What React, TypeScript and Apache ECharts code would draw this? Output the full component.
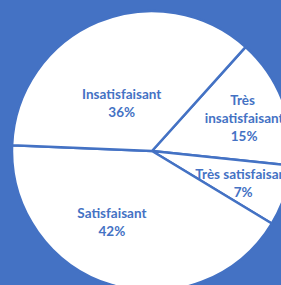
import React, { useEffect, useRef } from "react";
import * as echarts from "echarts";

const categories = ["Très insatisfaisant", "Très satisfaisant", "Satisfaisant", "Insatisfaisant"];
const values = [15, 7, 42, 36];

const BLUE = "#4472C4";
// label nudges (px) per slice, styling only
const labelOffsets: number[][] = [[24, -7], [22, 9], [-19, 1], [-2, 19]];
const labelWidths: (number | undefined)[] = [90, undefined, undefined, undefined];

export default function App() {
  const ref = useRef<HTMLDivElement>(null);
  useEffect(() => {
    document.body.style.margin = "0";
    const chart = echarts.init(ref.current!, null, { renderer: "svg" });
    chart.setOption({
      animation: false,
      backgroundColor: BLUE,
      series: [
        {
          type: "pie",
          center: [152, 151],
          radius: 140,
          startAngle: 48,
          clockwise: true,
          avoidLabelOverlap: false,
          itemStyle: { color: "#ffffff", borderColor: BLUE, borderWidth: 2.5 },
          label: {
            show: true,
            position: "inside",
            color: BLUE,
            fontFamily: "Lato",
            fontWeight: "bold",
            fontSize: 13.5,
            lineHeight: 18,
            formatter: (p: any) => `${p.name}\n${Math.round(p.percent)}%`,
          },
          labelLine: { show: false },
          emphasis: { disabled: true },
          data: categories.map((name, i) => ({
            name,
            value: values[i],
            label: {
              offset: labelOffsets[i],
              ...(labelWidths[i] ? { width: labelWidths[i], overflow: "break" } : {}),
            },
          })),
        },
      ],
    });
    return () => chart.dispose();
  }, []);
  return <div ref={ref} style={{ width: 281, height: 285 }} />;
}
